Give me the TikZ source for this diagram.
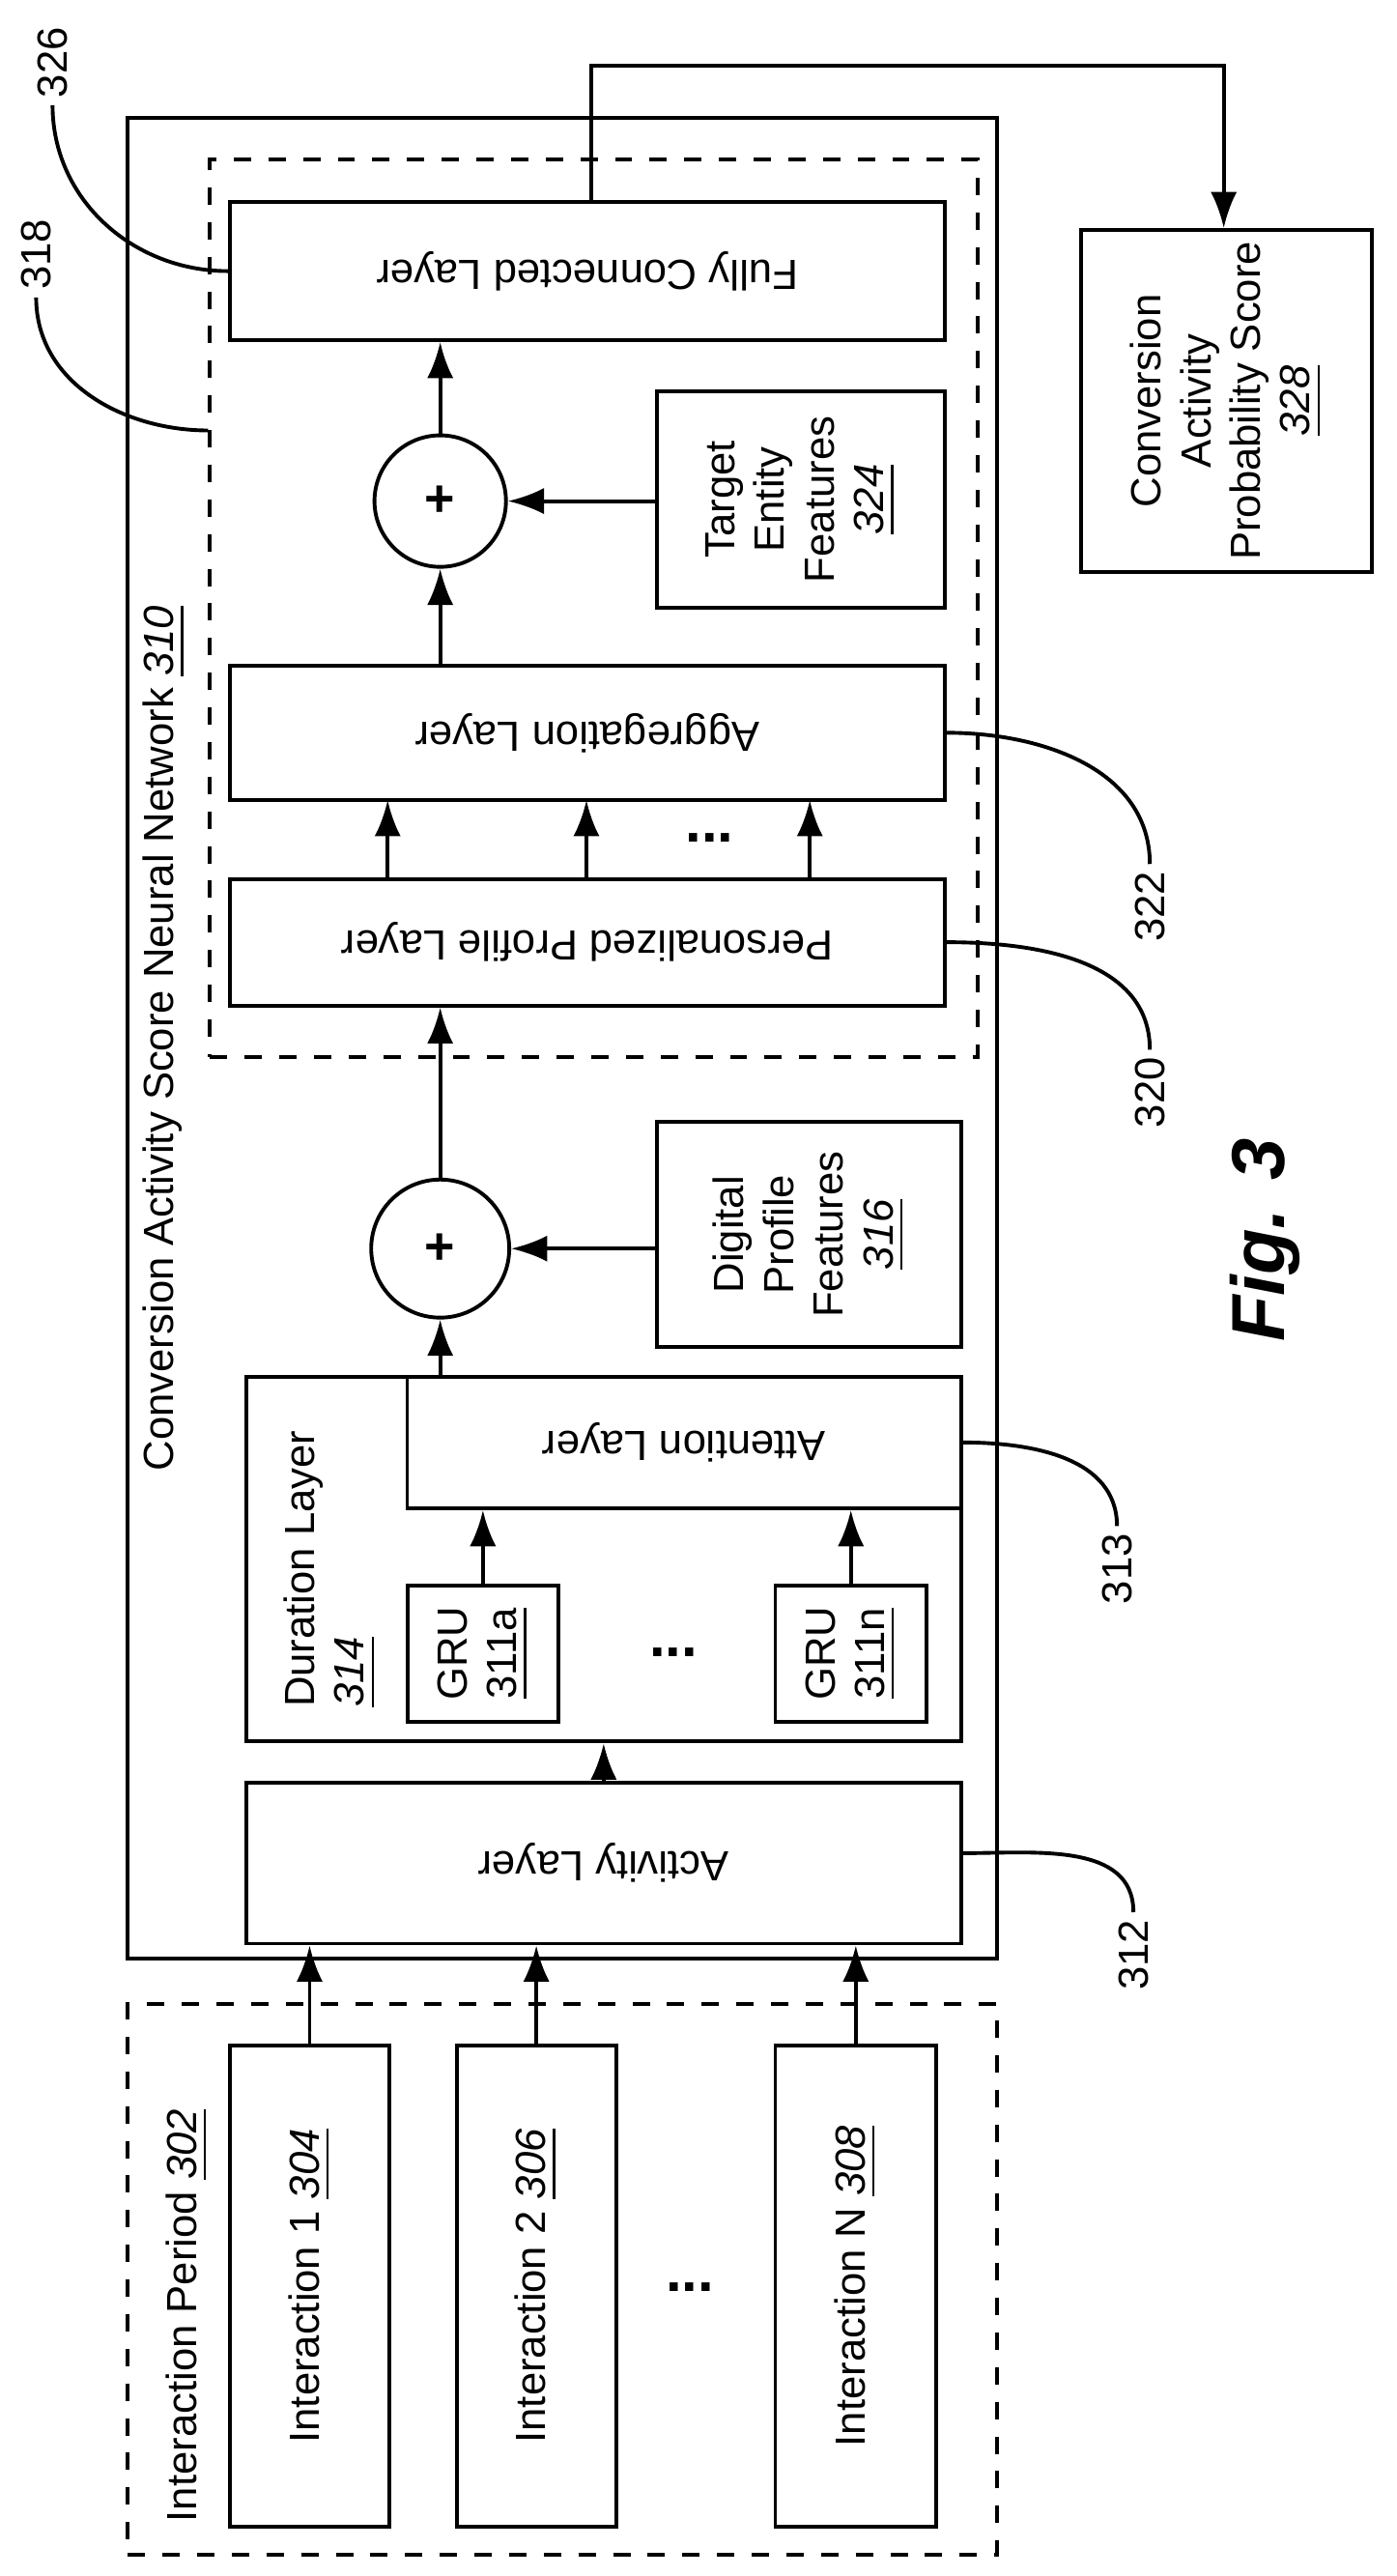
\documentclass[tikz,border=0pt]{standalone}
\usepackage{fontspec}
\setmainfont{Liberation Sans}
\usetikzlibrary{calc,positioning,arrows.meta}

\begin{document}
\begin{tikzpicture}[
            x=0.01cm,y=-0.01cm,
            line width=0.65pt,
            font=\fontsize{7.3}{8.6}\selectfont,
            box/.style={draw,inner sep=0pt},
            dbox/.style={draw,dashed,inner sep=0pt},
            sum/.style={draw,circle,inner sep=0pt,font=\fontsize{9}{10}\selectfont\bfseries},
            arr/.style={-{Latex[length=2.2mm,width=1.6mm]}},
            num/.style={rotate=90,inner sep=1pt}
        ]
            \useasboundingbox (0,0) rectangle (850,1568);

            % interaction period
            \node (period) [dbox,minimum width=5.29cm,minimum height=3.35cm] at (342.5,1387.5) {};
            \node [rotate=90,anchor=north west] at (88,1548) {Interaction Period \underline{\textit{302}}};
            \node (intA) [box,minimum width=0.97cm,minimum height=2.93cm,
                label={[rotate=90]center:Interaction 1 \underline{\textit{304}}}] at (188.5,1391.5) {};
            \node (intB) [box,minimum width=0.97cm,minimum height=2.93cm,
                label={[rotate=90]center:Interaction 2 \underline{\textit{306}}}] at (326.5,1391.5) {};
            \node (intN) [box,minimum width=0.98cm,minimum height=2.93cm,
                label={[rotate=90]center:Interaction N \underline{\textit{308}}}] at (521,1391.5) {};
            \node (dotsA) [font=\bfseries] at (420,1392) {...};

            % neural network
            \node (net) [box,minimum width=5.29cm,minimum height=11.2cm] at (342.5,632) {};
            \node [rotate=90] at (100,632) {Conversion Activity Score Neural Network \underline{\textit{310}}};
            \node (act) [box,minimum width=4.35cm,minimum height=0.98cm,
                label={[rotate=180]center:Activity Layer}] at (367.5,1134) {};
            \node (dur) [box,minimum width=4.35cm,minimum height=2.22cm] at (367.5,949) {};
            \node [rotate=90,anchor=north west,align=left] at (160,1052) {Duration Layer\\\underline{\textit{314}}};
            \node (gruA) [box,minimum width=0.92cm,minimum height=0.83cm,
                label={[rotate=90,align=center]center:GRU\\\underline{311a}}] at (294,1006.5) {};
            \node (gruN) [box,minimum width=0.92cm,minimum height=0.83cm,
                label={[rotate=90,align=center]center:GRU\\\underline{311n}}] at (518,1006.5) {};
            \node (dotsB) [font=\bfseries] at (410,1006) {...};
            \node (att) [box,minimum width=3.37cm,minimum height=0.8cm,
                label={[rotate=180]center:Attention Layer}] at (416.5,878) {};
            \node (sumA) [sum,minimum size=0.84cm] at (268,760) {+};
            \node (dpf) [box,minimum width=1.85cm,minimum height=1.37cm,
                label={[rotate=90,align=center]center:Digital\\Profile\\Features\\\underline{\textit{316}}}] at (492.5,751.5) {};

            % inner block
            \node (inner) [dbox,minimum width=4.67cm,minimum height=5.46cm] at (361.5,370) {};
            \node (pers) [box,minimum width=4.35cm,minimum height=0.77cm,
                label={[rotate=180]center:Personalized Profile Layer}] at (357.5,573.5) {};
            \node (agg) [box,minimum width=4.35cm,minimum height=0.82cm,
                label={[rotate=180]center:Aggregation Layer}] at (357.5,446) {};
            \node (dotsC) [font=\bfseries] at (432,510) {...};
            \node (sumB) [sum,minimum size=0.8cm] at (268,305) {+};
            \node (tef) [box,minimum width=1.75cm,minimum height=1.32cm,
                label={[rotate=90,align=center]center:Target\\Entity\\Features\\\underline{\textit{324}}}] at (487.5,304) {};
            \node (fc) [box,minimum width=4.35cm,minimum height=0.84cm,
                label={[rotate=180]center:Fully Connected Layer}] at (357.5,165) {};

            % output
            \node (cap) [box,minimum width=1.77cm,minimum height=2.08cm,
                label={[rotate=90,align=center]center:Conversion\\Activity\\Probability Score\\\underline{\textit{328}}}] at (746.5,244) {};
            \coordinate (t1) at (360,40);
            \coordinate (t2) at (745,40);

            % arrows
            \draw [arr] (intA.north) -- (intA.north |- act.south);
            \draw [arr] (intB.north) -- (intB.north |- act.south);
            \draw [arr] (intN.north) -- (intN.north |- act.south);
            \draw [arr] (act.north) -- (dur.south);
            \draw [arr] (gruA.north) -- (gruA.north |- att.south);
            \draw [arr] (gruN.north) -- (gruN.north |- att.south);
            \draw [arr] (sumA.south |- dur.north) -- (sumA.south);
            \draw [arr] (dpf.west |- sumA.east) -- (sumA.east);
            \draw [arr] (sumA.north) -- (sumA.north |- pers.south);
            \foreach \x in {236,357,493}
                \draw [arr] (\x,535) -- (\x,487);
            \draw [arr] (sumB.south |- agg.north) -- (sumB.south);
            \draw [arr] (tef.west |- sumB.east) -- (sumB.east);
            \draw [arr] (sumB.north) -- (sumB.north |- fc.south);
            \draw [arr] (t1 |- fc.north) -- (t1) -- (t2) -- (t2 |- cap.north);

            % callouts
            \node (n312) [num] at (690,1190) {312};
            \node (n313) [num] at (680,955) {313};
            \node (n320) [num] at (700,665) {320};
            \node (n322) [num] at (700,552) {322};
            \node (n326) [num] at (32,38) {326};
            \node (n318) [num] at (22,155) {318};
            \draw (act.east |- 0,1128) to[out=0,in=90] (n312.east);
            \draw (att.east) to[out=0,in=90] (n313.east);
            \draw (pers.east) to[out=0,in=90] (n320.east);
            \draw (agg.east) to[out=0,in=90] (n322.east);
            \draw (n326.west) to[out=-90,in=180] (fc.west);
            \draw (n318.west) to[out=-90,in=180] (inner.west |- 0,262);

            \node [font=\fontsize{13}{15}\selectfont\bfseries\itshape,rotate=90] at (770,755) {Fig. 3};
        \end{tikzpicture}
\end{document}
